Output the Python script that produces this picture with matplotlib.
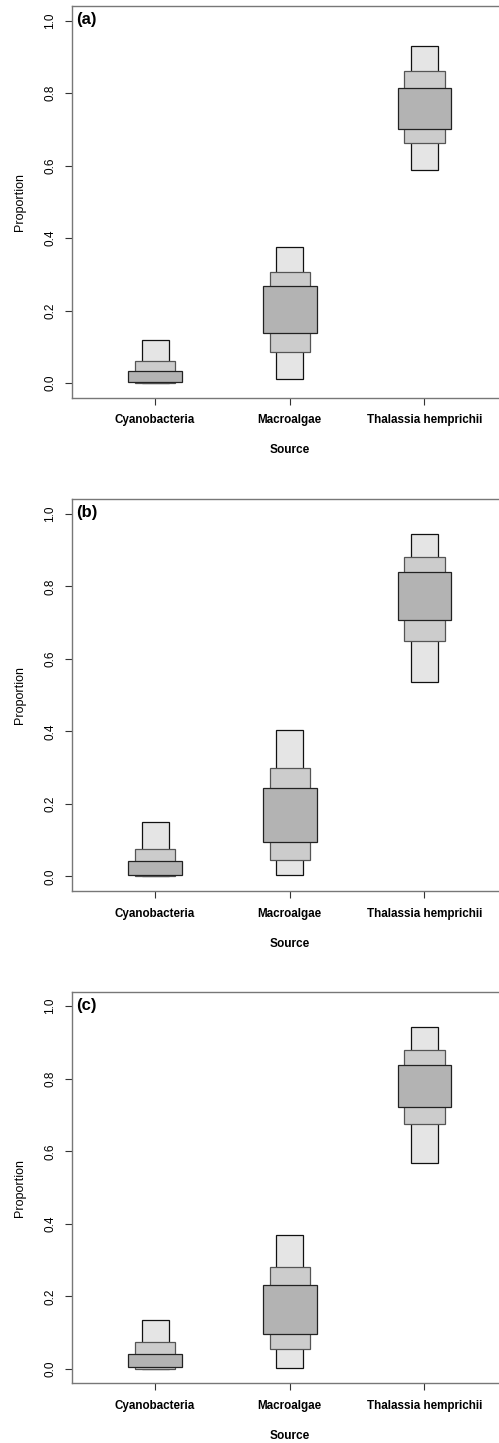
"""
Source contributions (highest density regions) for three consumer groups
"""

import numpy as np
import matplotlib.pyplot as plt

plt.rcParams['font.family'] = ['Liberation Sans', 'DejaVu Sans']

sources = ['Cyanobacteria', 'Macroalgae', 'Thalassia hemprichii']
panel_labels = ['(a)', '(b)', '(c)']
y_ticks = [0.0, 0.2, 0.4, 0.6, 0.8, 1.0]

# (low, high) of the 95%, 75% and 50% credible regions, one tuple per source
hdr95_a = [(0.000, 0.118), (0.011, 0.375), (0.588, 0.930)]
hdr75_a = [(0.000, 0.061), (0.085, 0.307), (0.661, 0.861)]
hdr50_a = [(0.003, 0.034), (0.138, 0.268), (0.700, 0.815)]

hdr95_b = [(0.000, 0.149), (0.003, 0.404), (0.535, 0.944)]
hdr75_b = [(0.000, 0.076), (0.045, 0.300), (0.649, 0.882)]
hdr50_b = [(0.003, 0.044), (0.094, 0.244), (0.708, 0.840)]

hdr95_c = [(0.000, 0.136), (0.003, 0.370), (0.567, 0.942)]
hdr75_c = [(0.000, 0.075), (0.054, 0.280), (0.675, 0.879)]
hdr50_c = [(0.005, 0.042), (0.096, 0.231), (0.723, 0.839)]

panels = [
    (hdr95_a, hdr75_a, hdr50_a),
    (hdr95_b, hdr75_b, hdr50_b),
    (hdr95_c, hdr75_c, hdr50_c),
]

# box widths, fills and outlines, outermost region first
widths = [0.2, 0.3, 0.4]
fills = ['#e5e5e5', '#cccccc', '#b3b3b3']
edges = ['#111111', '#555555', '#222222']

W, H = 499, 1443
fig = plt.figure(figsize=(W / 100, H / 100), dpi=100)

left = 71.5 / W
width = 436.5 / W
height = 391.7 / H
tops = [6.0, 499.3, 991.7]

x = np.arange(1, len(sources) + 1)

for top, label, regions in zip(tops, panel_labels, panels):
    ax = fig.add_axes([left, 1 - (top + 391.7) / H, width, height])

    for hdr, w, c, e in zip(regions, widths, fills, edges):
        lo = np.array([r[0] for r in hdr])
        hi = np.array([r[1] for r in hdr])
        ax.bar(x, hi - lo, bottom=lo, width=w, color=c,
               edgecolor=e, linewidth=0.9)

    ax.set_xlim(0.38, 3.62)
    ax.set_ylim(-0.04, 1.04)

    ax.set_xticks(x)
    ax.set_xticklabels(sources, fontsize=8.4, fontweight='bold')
    ax.set_yticks(y_ticks)
    ax.set_yticklabels([f'{t:.1f}' for t in y_ticks], fontsize=8.5,
                       rotation=90, va='center')
    ax.tick_params(axis='both', length=5, width=0.8, color='#333333')
    ax.tick_params(axis='x', pad=7)
    ax.tick_params(axis='y', pad=6)

    for s in ax.spines.values():
        s.set_color('#777777')
        s.set_linewidth(1.0)

    ax.set_xlabel('Source', fontsize=8.6, fontweight='bold', labelpad=13)
    ax.set_ylabel('Proportion', fontsize=9, labelpad=13)

    ax.text(0.011, 0.985, label, transform=ax.transAxes, fontsize=12,
            fontweight='bold', va='top', ha='left')

fig.savefig('out.png', dpi=100)
